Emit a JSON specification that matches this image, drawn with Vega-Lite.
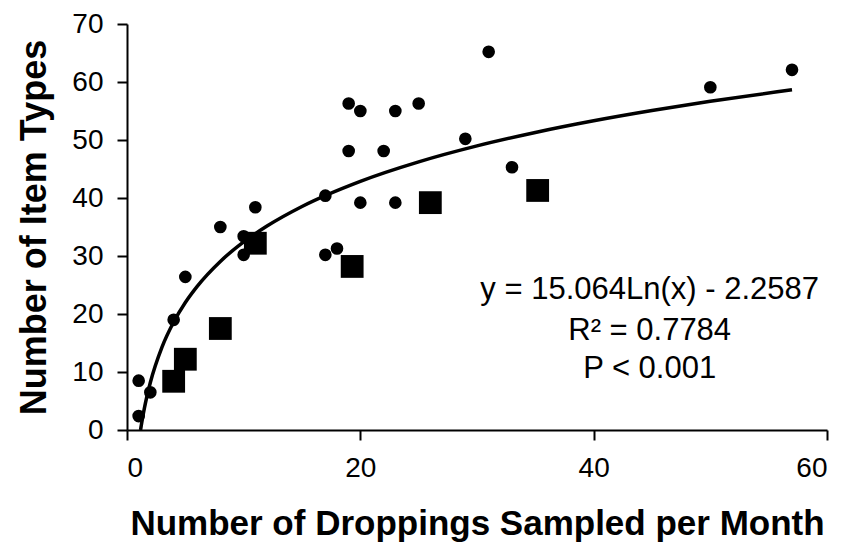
{
  "$schema": "https://vega.github.io/schema/vega-lite/v6.json",
  "width": 700,
  "height": 406,
  "autosize": "none",
  "padding": {"left": 127, "top": 24, "right": 24, "bottom": 114},
  "background": "white",
  "config": {
    "view": {"stroke": null},
    "font": "Liberation Sans",
    "axis": {
      "grid": false,
      "domainColor": "black",
      "domainWidth": 2,
      "tickColor": "black",
      "tickWidth": 2,
      "tickSize": 10,
      "labelFont": "Liberation Sans",
      "labelColor": "black",
      "titleFont": "Liberation Sans",
      "titleFontWeight": "bold",
      "titleColor": "black"
    }
  },
  "datasets": {
    "obs": [
      {"x": 1, "y": 2.4, "g": "circle"},
      {"x": 1, "y": 8.5, "g": "circle"},
      {"x": 2, "y": 6.5, "g": "circle"},
      {"x": 4, "y": 19, "g": "circle"},
      {"x": 5, "y": 26.4, "g": "circle"},
      {"x": 8, "y": 35, "g": "circle"},
      {"x": 10, "y": 30.2, "g": "circle"},
      {"x": 10, "y": 33.4, "g": "circle"},
      {"x": 11, "y": 38.4, "g": "circle"},
      {"x": 17, "y": 30.2, "g": "circle"},
      {"x": 17, "y": 40.4, "g": "circle"},
      {"x": 18, "y": 31.3, "g": "circle"},
      {"x": 19, "y": 48.1, "g": "circle"},
      {"x": 19, "y": 56.3, "g": "circle"},
      {"x": 20, "y": 55, "g": "circle"},
      {"x": 20, "y": 39.2, "g": "circle"},
      {"x": 22, "y": 48.1, "g": "circle"},
      {"x": 23, "y": 55, "g": "circle"},
      {"x": 23, "y": 39.2, "g": "circle"},
      {"x": 25, "y": 56.3, "g": "circle"},
      {"x": 29, "y": 50.2, "g": "circle"},
      {"x": 31, "y": 65.2, "g": "circle"},
      {"x": 33, "y": 45.3, "g": "circle"},
      {"x": 50, "y": 59.1, "g": "circle"},
      {"x": 57, "y": 62.1, "g": "circle"},
      {"x": 4, "y": 8.4, "g": "square"},
      {"x": 5, "y": 12.2, "g": "square"},
      {"x": 8, "y": 17.5, "g": "square"},
      {"x": 11, "y": 32.2, "g": "square"},
      {"x": 19.3, "y": 28.2, "g": "square"},
      {"x": 26, "y": 39.2, "g": "square"},
      {"x": 35.2, "y": 41.3, "g": "square"}
    ],
    "fit": [
      {"x": 1.16, "y": 0.0},
      {"x": 1.2, "y": 0.49},
      {"x": 1.3, "y": 1.70},
      {"x": 1.5, "y": 3.85},
      {"x": 2, "y": 8.18},
      {"x": 3, "y": 14.29},
      {"x": 4, "y": 18.62},
      {"x": 5, "y": 21.99},
      {"x": 6, "y": 24.73},
      {"x": 8, "y": 29.07},
      {"x": 10, "y": 32.43},
      {"x": 12, "y": 35.17},
      {"x": 15, "y": 38.54},
      {"x": 20, "y": 42.87},
      {"x": 25, "y": 46.23},
      {"x": 30, "y": 48.98},
      {"x": 35, "y": 51.30},
      {"x": 40, "y": 53.31},
      {"x": 45, "y": 55.08},
      {"x": 50, "y": 56.67},
      {"x": 57, "y": 58.65}
    ],
    "notes": [
      {"x": 44.8, "y": 24.2, "t": "y = 15.064Ln(x) - 2.2587"},
      {"x": 44.8, "y": 17.1, "t": "R² = 0.7784"},
      {"x": 44.8, "y": 10.5, "t": "P < 0.001"}
    ]
  },
  "encoding": {
    "x": {
      "field": "x", "type": "quantitative",
      "scale": {"domain": [0, 60], "nice": false, "zero": false},
      "axis": {"values": [0, 20, 40, 60], "title": "Number of Droppings Sampled per Month", "titleFontSize": 35, "labelFontSize": 28, "titlePadding": 24, "labelPadding": 14}
    },
    "y": {
      "field": "y", "type": "quantitative",
      "scale": {"domain": [0, 70], "nice": false, "zero": false},
      "axis": {"values": [0, 10, 20, 30, 40, 50, 60, 70], "title": "Number of Item Types", "titleFontSize": 36, "labelFontSize": 28, "titlePadding": 18, "labelPadding": 14}
    }
  },
  "layer": [
    {
      "data": {"name": "fit"},
      "mark": {"type": "line", "color": "black", "strokeWidth": 3.5, "interpolate": "monotone"}
    },
    {
      "data": {"name": "obs"},
      "mark": {"type": "point", "filled": true, "color": "black", "opacity": 1},
      "encoding": {
        "shape": {"field": "g", "type": "nominal", "scale": {"domain": ["circle", "square"], "range": ["circle", "square"]}, "legend": null},
        "size": {"field": "g", "type": "nominal", "scale": {"domain": ["circle", "square"], "range": [160, 520]}, "legend": null}
      }
    },
    {
      "data": {"name": "notes"},
      "mark": {"type": "text", "font": "Liberation Sans", "fontSize": 31, "color": "black", "align": "center", "baseline": "middle"},
      "encoding": {"text": {"field": "t", "type": "nominal"}}
    }
  ]
}
